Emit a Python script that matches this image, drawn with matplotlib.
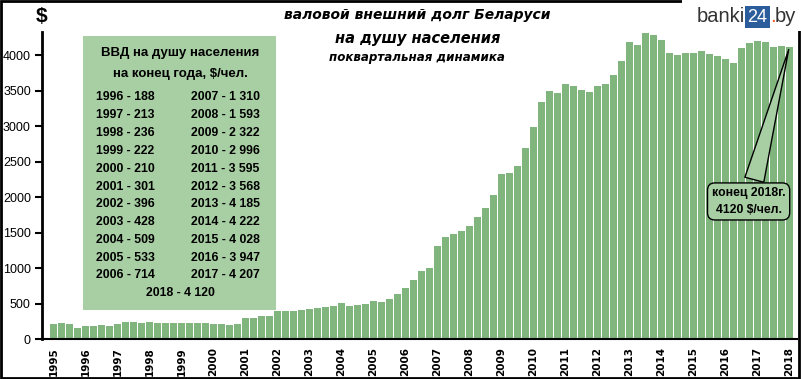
import numpy as np
import matplotlib.pyplot as plt
from matplotlib.patches import Rectangle

# внешний долг на душу населения, $/чел., поквартально (конец 1995 - конец 2018)
debt = [205, 232, 215, 150,
        188, 180, 195, 185,
        213, 245, 245, 228,
        236, 228, 228, 228,
        222, 225, 225, 222,
        210, 210, 195, 208,
        301, 300, 320, 320,
        396, 396, 398, 412,
        428, 442, 456, 470,
        509, 468, 482, 496,
        533, 522, 566, 640,
        714, 838, 965, 1005,
        1310, 1440, 1482, 1525,
        1593, 1715, 1850, 2035,
        2322, 2340, 2445, 2700,
        2996, 3345, 3497, 3472,
        3595, 3565, 3510, 3482,
        3568, 3595, 3722, 3918,
        4185, 4145, 4314, 4286,
        4222, 4032, 4004, 4032,
        4028, 4060, 4018, 3990,
        3947, 3890, 4102, 4173,
        4207, 4187, 4117, 4131,
        4120]
years = [str(y) for y in range(1995, 2019)]

# табличка в рамке
left_col = ['1996 - 188', '1997 - 213', '1998 - 236', '1999 - 222', '2000 - 210',
            '2001 - 301', '2002 - 396', '2003 - 428', '2004 - 509', '2005 - 533',
            '2006 - 714']
right_col = ['2007 - 1 310', '2008 - 1 593', '2009 - 2 322', '2010 - 2 996',
             '2011 - 3 595', '2012 - 3 568', '2013 - 4 185', '2014 - 4 222',
             '2015 - 4 028', '2016 - 3 947', '2017 - 4 207']
last_row = '2018 - 4 120'

W, H = 801, 379
fx = lambda px: px / W
fy = lambda py: 1 - py / H

plt.rcParams['font.family'] = ['Liberation Sans', 'DejaVu Sans']

fig = plt.figure(figsize=(W / 100, H / 100), dpi=100)
ax = fig.add_axes([fx(42), fy(339), fx(797) - fx(42), fy(32) - fy(339)])

x = np.arange(len(debt))
ax.bar(x, debt, width=0.86, color='#80b57d')

ax.set_xlim(-1.45, 92.95)
ax.set_ylim(0, 4330)
ax.set_yticks(range(0, 4001, 500))
ax.set_xticks(x[::4])
ax.set_xticklabels(years, rotation=90, fontweight='bold',
                   fontfamily='Liberation Sans Narrow', fontsize=7.5)
ax.tick_params(axis='x', length=0, pad=6)
ax.tick_params(axis='y', length=5, width=1.5, labelsize=9, pad=3)
for s in ['top', 'right']:
    ax.spines[s].set_visible(False)
ax.spines['left'].set_linewidth(2)
ax.spines['bottom'].set_linewidth(1.5)

# заголовок
fig.text(fx(417), fy(15), 'валовой внешний долг Беларуси', ha='center', va='center',
         fontsize=10, fontweight='bold', fontstyle='italic', family='DejaVu Sans')
fig.text(fx(418), fy(39), 'на душу населения', ha='center', va='center',
         fontsize=10.5, fontweight='bold', fontstyle='italic', family='DejaVu Sans')
fig.text(fx(417), fy(58), 'поквартальная динамика', ha='center', va='center',
         fontsize=8.6, fontweight='bold', fontstyle='italic', family='DejaVu Sans')
fig.text(fx(42), fy(17), '$', ha='center', va='center', fontsize=15, fontweight='bold')

# зелёная табличка
fig.add_artist(Rectangle((fx(83), fy(310)), fx(276) - fx(83), fy(36) - fy(310),
                         transform=fig.transFigure, color='#a8cfa3', lw=0))
fig.text(fx(180), fy(53), 'ВВД на душу населения', ha='center', va='center',
         fontsize=9.5, fontweight='bold')
fig.text(fx(180), fy(74), 'на конец года, $/чел.', ha='center', va='center',
         fontsize=9.5, fontweight='bold')
for i, (a, b) in enumerate(zip(left_col, right_col)):
    yy = 97.5 + i * 17.8
    fig.text(fx(96), fy(yy), a, ha='left', va='center', fontsize=8.8, fontweight='bold')
    fig.text(fx(191), fy(yy), b, ha='left', va='center', fontsize=8.8, fontweight='bold')
fig.text(fx(180), fy(293), last_row, ha='center', va='center', fontsize=8.8, fontweight='bold')

# выноска
ax.annotate('конец 2018г.\n4120 $/чел.', xy=(x[-1], debt[-1]), xytext=(86.9, 1940),
            ha='center', va='center', fontsize=8.8, fontweight='bold', linespacing=1.5,
            bbox=dict(boxstyle='round,pad=0.35,rounding_size=0.6', fc='#a8cfa3', ec='black', lw=1),
            arrowprops=dict(arrowstyle='wedge,tail_width=1.6,shrink_factor=0.5',
                            fc='#a8cfa3', ec='black', lw=1))

# рамка
fig.add_artist(Rectangle((0.001, 0.002), 0.997, 0.995, transform=fig.transFigure,
                         fill=False, ec='black', lw=2))

# логотип
fig.add_artist(Rectangle((fx(682), fy(31)), fx(801) - fx(682), fy(0) - fy(31),
                         transform=fig.transFigure, color='white', lw=0, zorder=5))
fig.text(fx(745), fy(17), 'banki', ha='right', va='center', fontsize=14.5,
         color='#333333', zorder=6)
fig.text(fx(757.5), fy(17), '24', ha='center', va='center', fontsize=13, color='white',
         zorder=6, bbox=dict(boxstyle='square,pad=0.12', fc='#2b5d9c', ec='none'))
fig.text(fx(770), fy(17), '.', ha='left', va='center', fontsize=14.5, color='#e8541c', zorder=6)
fig.text(fx(775), fy(17), 'by', ha='left', va='center', fontsize=14.5, color='#333333', zorder=6)

fig.savefig('out.png', dpi=100)
